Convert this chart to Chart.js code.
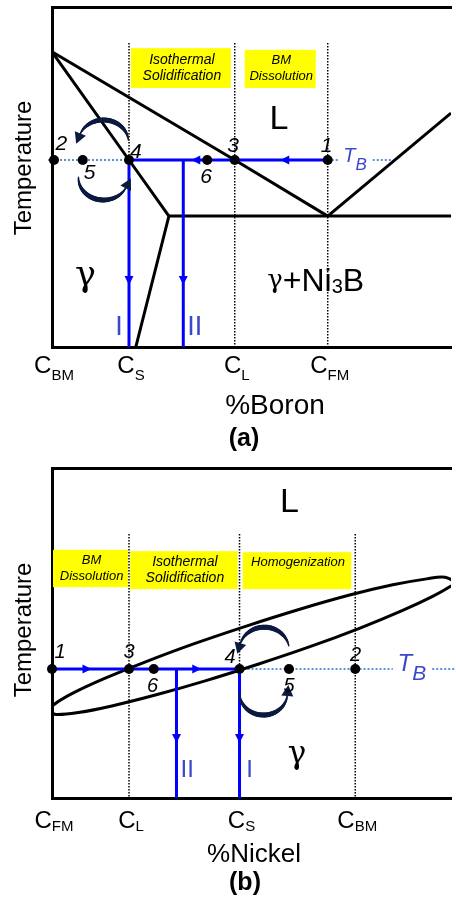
<!DOCTYPE html>
<html><head><meta charset="utf-8">
<script src="https://cdn.jsdelivr.net/npm/chart.js@4.4.0/dist/chart.umd.min.js"></script>
<style>
html,body{margin:0;padding:0;background:#fff;width:456px;height:903px;overflow:hidden}
canvas{position:absolute;left:0}
#ca{top:0}
#cb{top:452px}
</style></head><body>
<canvas id="ca" width="456" height="452"></canvas>
<canvas id="cb" width="456" height="451"></canvas>
<script>
// ================= DATA: panel (a)  Temperature vs %Boron =================
const ticksA = [0, 19.3, 45.8, 69.1];            // C_BM, C_S, C_L, C_FM
const tickNamesA = ['BM', 'S', 'L', 'FM'];
const tbA = 55;                                    // brazing temperature T_B
const liqA_x = [0, 45.8, 69.1];                    // liquidus (left branch)
const liqA_y = [86.8, 55, 38.5];
const solA_x = [0, 19.3, 29.3, 21.0];              // solidus + solvus
const solA_y = [86.8, 55, 38.5, 0];
const eutA_x = [29.3, 100];                        // eutectic isotherm
const eutA_y = [38.5, 38.5];
const liqRA_x = [69.1, 100];                       // liquidus (right branch)
const liqRA_y = [38.5, 68.8];
const ptsA_x = [0.5, 7.7, 19.3, 38.9, 45.8, 69.1]; // points 2,5,4,6,3,1
const ptsA_names = ['2', '5', '4', '6', '3', '1'];
const pathIA_x = 19.3, pathIIA_x = 32.9;           // cooling paths I and II

// ================= DATA: panel (b)  Temperature vs %Nickel =================
const ticksB = [0, 19.3, 47.0, 76.0];              // C_FM, C_L, C_S, C_BM
const tickNamesB = ['FM', 'L', 'S', 'BM'];
const tbB = 39.1;
const liqB_x = [-1.0, 0.35, 5.1, 12.9, 23.3, 35.5, 48.7, 62.1, 74.6, 85.4, 93.9, 98.5, 101];
const liqB_y = [26.1, 28.2, 31.7, 36.1, 41.2, 46.7, 52.1, 57.2, 61.5, 64.6, 66.4, 66.9, 65.5];
const solB_x = [-1.0, 1.1, 6.6, 15.0, 25.9, 38.4, 51.8, 65.0, 77.2, 87.6, 95.4, 100.1, 101];
const solB_y = [26.1, 25.3, 25.9, 27.9, 31.2, 35.5, 40.6, 46.0, 51.5, 56.7, 61.1, 64.3, 65.5];
const ptsB_x = [0, 19.3, 25.5, 47.0, 59.4, 76.0];  // points 1,3,6,4,5,2
const ptsB_names = ['1', '3', '6', '4', '5', '2'];
const pathIB_x = 47.0, pathIIB_x = 31.2;

// ================= helpers =================
const F = "'Liberation Sans', Arial, sans-serif";
const SERIF = "'DejaVu Serif', 'Liberation Serif', serif";
const BLUE = '#0000ff', LBLUE = '#5a8fd6', TXTBLUE = '#3b47cc', NAVY = '#0c1a40';

function pts(xs, ys) { return xs.map((x, i) => ({x: x, y: ys[i]})); }
function lineDs(xs, ys, o) {
  return Object.assign({data: pts(xs, ys), showLine: true, pointRadius: 0, pointHoverRadius: 0,
    borderColor: '#000', borderWidth: 3, fill: false, tension: 0}, o || {});
}
const dotV = {borderWidth: 1.5, borderDash: [1.5, 1.5]};
const dotTB = {borderColor: LBLUE, borderWidth: 2, borderDash: [2, 2], clip: 8};
const blue = {borderColor: BLUE, borderWidth: 3};
function pointDs(xs, y) {
  return {data: xs.map(x => ({x: x, y: y})), showLine: false, pointRadius: 5, pointHoverRadius: 5,
    pointBackgroundColor: '#000', pointBorderWidth: 0, clip: false};
}

function drawRuns(ctx, runs, x, y, align, color, base) {
  let w = 0;
  runs.forEach(r => { ctx.font = r[1]; w += ctx.measureText(r[0]).width; });
  let sx = align === 'left' ? x : x - w / 2;
  ctx.fillStyle = color || '#000';
  ctx.textAlign = 'left';
  ctx.textBaseline = base || 'alphabetic';
  runs.forEach(r => { ctx.font = r[1]; ctx.fillText(r[0], sx, y + (r[2] || 0)); sx += ctx.measureText(r[0]).width; });
}

const annot = {
  id: 'annot',
  beforeDatasetsDraw(chart, args, o) {
    const ctx = chart.ctx, X = chart.scales.x, Y = chart.scales.y;
    ctx.save();
    o.boxes.forEach(b => {
      const x0 = X.getPixelForValue(b.x0), x1 = X.getPixelForValue(b.x1);
      const y0 = Y.getPixelForValue(b.y1), y1 = Y.getPixelForValue(b.y0);
      ctx.fillStyle = '#ffff00';
      ctx.fillRect(x0, y0, x1 - x0, y1 - y0);
      const cx = (x0 + x1) / 2 + 1, cy = (y0 + y1) / 2;
      b.lines.forEach((t, i) => {
        drawRuns(ctx, [[t, 'italic ' + b.size + 'px ' + F]], cx, cy + (i === 0 ? -8 : 8), 'center', '#000', 'middle');
      });
    });
    ctx.restore();
  },
  afterDatasetsDraw(chart, args, o) {
    const ctx = chart.ctx, X = chart.scales.x, Y = chart.scales.y, A = chart.chartArea;
    ctx.save();
    // straight arrowheads on the blue paths
    o.arrows.forEach(a => {
      const px = X.getPixelForValue(a.x), py = Y.getPixelForValue(a.y);
      const d = {left: [-1, 0], right: [1, 0], down: [0, 1]}[a.dir];
      const L = 9, W = 4.5;
      ctx.fillStyle = BLUE;
      ctx.beginPath();
      ctx.moveTo(px, py);
      ctx.lineTo(px - d[0] * L - d[1] * W, py - d[1] * L + d[0] * W);
      ctx.lineTo(px - d[0] * L + d[1] * W, py - d[1] * L - d[0] * W);
      ctx.closePath();
      ctx.fill();
    });
    // curved circulation arrows
    o.curves.forEach(c => {
      const cx = X.getPixelForValue(c.cx), cy = Y.getPixelForValue(c.cy);
      const a0 = c.a0 * Math.PI / 180, a1 = c.a1 * Math.PI / 180;
      const n = 30;
      ctx.strokeStyle = NAVY; ctx.fillStyle = NAVY; ctx.lineCap = 'round';
      for (let i = 0; i < n; i++) {
        const t0 = a0 + (a1 - a0) * i / n, t1 = a0 + (a1 - a0) * (i + 1) / n;
        const s = (i + 0.5) / n;
        ctx.lineWidth = 1.2 + 3.8 * Math.sin(Math.PI * s);
        ctx.beginPath();
        ctx.moveTo(cx + c.rx * Math.cos(t0), cy + c.ry * Math.sin(t0));
        ctx.lineTo(cx + c.rx * Math.cos(t1), cy + c.ry * Math.sin(t1));
        ctx.stroke();
      }
      const ex = cx + c.rx * Math.cos(a1), ey = cy + c.ry * Math.sin(a1);
      const sg = a1 < a0 ? 1 : -1;
      let dx = sg * c.rx * Math.sin(a1), dy = -sg * c.ry * Math.cos(a1);
      const m = Math.hypot(dx, dy); dx /= m; dy /= m;
      ctx.beginPath();
      ctx.moveTo(ex + dx * 10, ey + dy * 10);
      ctx.lineTo(ex - dx * 1 - dy * 6, ey - dy * 1 + dx * 6);
      ctx.lineTo(ex - dx * 1 + dy * 6, ey - dy * 1 - dx * 6);
      ctx.closePath();
      ctx.fill();
    });
    // text labels in data coordinates
    o.texts.forEach(t => {
      drawRuns(ctx, t.r, X.getPixelForValue(t.x), Y.getPixelForValue(t.y), t.align || 'center', t.color, t.base);
    });
    // x tick labels with subscripts
    o.ticks.forEach((v, i) => {
      drawRuns(ctx, [['C', '24px ' + F], [o.tickNames[i], '15px ' + F, o.subDy]],
        X.getPixelForValue(v) + 2, A.bottom + o.tickBase, 'center');
    });
    // axis titles and panel label
    drawRuns(ctx, [[o.xTitle, o.xTitleSize + 'px ' + F]], o.xTitleX, A.bottom + o.xTitleBase, 'center');
    drawRuns(ctx, [[o.panel, 'bold 25px ' + F]], o.panelX, A.bottom + o.panelBase, 'center');
    ctx.save();
    ctx.translate(24, o.yTitleY);
    ctx.rotate(-Math.PI / 2);
    drawRuns(ctx, [['Temperature', '24px ' + F]], 0, 0, 'center', '#000', 'middle');
    ctx.restore();
    ctx.restore();
  }
};

function makeChart(id, datasets, cfg) {
  const border = {display: true, color: '#000', width: 3};
  return new Chart(document.getElementById(id), {
    type: 'scatter',
    data: {datasets: datasets},
    options: {
      responsive: false, animation: false, devicePixelRatio: 1, events: [],
      layout: {padding: 0},
      plugins: {legend: {display: false}, tooltip: {enabled: false}, annot: cfg},
      scales: {
        x: {type: 'linear', position: 'bottom', min: 0, max: 100, ticks: {display: false},
            grid: {display: false}, border: border, afterFit(s) { s.height = cfg.bottomH; }},
        xTop: {type: 'linear', position: 'top', min: 0, max: 100, ticks: {display: false},
            grid: {display: false}, border: border, afterFit(s) { s.height = cfg.topH; }},
        y: {type: 'linear', position: 'left', min: 0, max: 100, ticks: {display: false},
            grid: {display: false}, border: border, afterFit(s) { s.width = 52; }}
      }
    },
    plugins: [annot]
  });
}

// ================= panel (a) =================
const numA = 'italic 21px ' + F;
makeChart('ca', [
  pointDs(ptsA_x, tbA),
  lineDs([ticksA[1], ticksA[3]], [tbA, tbA], blue),
  lineDs([pathIA_x, pathIA_x], [tbA, 0], blue),
  lineDs([pathIIA_x, pathIIA_x], [tbA, 0], blue),
  lineDs(liqA_x, liqA_y),
  lineDs(solA_x, solA_y),
  lineDs(eutA_x, eutA_y),
  lineDs(liqRA_x, liqRA_y),
  lineDs([-1, ticksA[1]], [tbA, tbA], dotTB),
  lineDs([ticksA[3], 71.8], [tbA, tbA], dotTB),
  lineDs([80.4, 84.9], [tbA, tbA], dotTB),
  lineDs([ticksA[1], ticksA[1]], [89.4, tbA], dotV),
  lineDs([ticksA[2], ticksA[2]], [89.4, 0], dotV),
  lineDs([ticksA[3], ticksA[3]], [89.4, 0], dotV)
], {
  topH: 7, bottomH: 105,
  ticks: ticksA, tickNames: tickNamesA, tickBase: 26, subDy: 7,
  xTitle: '%Boron', xTitleSize: 28, xTitleX: 275, xTitleBase: 67,
  panel: '(a)', panelX: 244, panelBase: 99, yTitleY: 168,
  boxes: [
    {x0: 19.8, x1: 44.8, y0: 76.2, y1: 87.9, lines: ['Isothermal', 'Solidification'], size: 14},
    {x0: 48.3, x1: 66.1, y0: 76.2, y1: 87.4, lines: ['BM', 'Dissolution'], size: 13}
  ],
  arrows: [
    {x: 57.2, y: tbA, dir: 'left'}, {x: 34.9, y: tbA, dir: 'left'},
    {x: pathIA_x, y: 18.2, dir: 'down'}, {x: pathIIA_x, y: 18.2, dir: 'down'}
  ],
  curves: [
    {cx: 12.9, cy: 60.3, rx: 25, ry: 22, a0: -5, a1: -160},
    {cx: 12.9, cy: 49.7, rx: 25, ry: 22, a0: 182, a1: 25}
  ],
  texts: [
    {r: [['L', '34px ' + F]], x: 56.9, y: 66.8, base: 'middle'},
    {r: [['γ', '35px ' + SERIF]], x: 8.4, y: 17.9},
    {r: [['γ', '26px ' + SERIF, -3], ['+Ni', '32px ' + F], ['3', '20px ' + F, 2], ['B', '32px ' + F]], x: 66.1, y: 16.5},
    {r: [['I', '27px ' + F]], x: 16.8, y: 3.5, color: TXTBLUE},
    {r: [['II', '27px ' + F]], x: 35.8, y: 3.5, color: TXTBLUE},
    {r: [['T', 'italic 20px ' + F], ['B', 'italic 17px ' + F, 8]], x: 73.0, y: 54.4, align: 'left', color: TXTBLUE},
    {r: [[ptsA_names[0], numA]], x: 2.35, y: 57.9},
    {r: [[ptsA_names[1], numA]], x: 9.4, y: 49.4},
    {r: [[ptsA_names[2], numA]], x: 21.0, y: 55.6},
    {r: [[ptsA_names[3], numA]], x: 38.6, y: 48.2},
    {r: [[ptsA_names[4], numA]], x: 45.4, y: 57.4},
    {r: [[ptsA_names[5], numA]], x: 68.8, y: 57.4}
  ]
});

// ================= panel (b) =================
const numB = 'italic 20px ' + F;
makeChart('cb', [
  pointDs(ptsB_x, tbB),
  lineDs([ticksB[0], ticksB[2]], [tbB, tbB], blue),
  lineDs([pathIB_x, pathIB_x], [tbB, 0], blue),
  lineDs([pathIIB_x, pathIIB_x], [tbB, 0], blue),
  lineDs(liqB_x, liqB_y, {tension: 0.4, clip: 0}),
  lineDs(solB_x, solB_y, {tension: 0.4, clip: 0}),
  lineDs([ticksB[2], 85.4], [tbB, tbB], dotTB),
  lineDs([95.3, 101], [tbB, tbB], dotTB),
  lineDs([ticksB[1], ticksB[1]], [80, 0], dotV),
  lineDs([ticksB[2], ticksB[2]], [80, tbB], dotV),
  lineDs([ticksB[3], ticksB[3]], [80, 0], dotV)
], {
  topH: 16, bottomH: 105,
  ticks: ticksB, tickNames: tickNamesB, tickBase: 30, subDy: 3,
  xTitle: '%Nickel', xTitleSize: 26, xTitleX: 254, xTitleBase: 64,
  panel: '(b)', panelX: 245, panelBase: 92, yTitleY: 178,
  boxes: [
    {x0: 0.25, x1: 19.1, y0: 63.9, y1: 75.2, lines: ['BM', 'Dissolution'], size: 13},
    {x0: 19.6, x1: 46.5, y0: 63.3, y1: 74.8, lines: ['Isothermal', 'Solidification'], size: 14},
    {x0: 47.8, x1: 75.0, y0: 63.3, y1: 74.5, lines: ['Homogenization', ''], size: 13}
  ],
  arrows: [
    {x: 9.9, y: tbB, dir: 'right'}, {x: 37.4, y: tbB, dir: 'right'},
    {x: pathIIB_x, y: 16.7, dir: 'down'}, {x: pathIB_x, y: 16.7, dir: 'down'}
  ],
  curves: [
    {cx: 53.2, cy: 44.8, rx: 25, ry: 23, a0: -11, a1: -165},
    {cx: 53.0, cy: 31.8, rx: 24, ry: 22, a0: 180, a1: 5}
  ],
  texts: [
    {r: [['L', '34px ' + F]], x: 59.5, y: 89.4, base: 'middle'},
    {r: [['γ', '31px ' + SERIF]], x: 61.4, y: 10.6},
    {r: [['II', '24px ' + F]], x: 33.9, y: 6.4, color: TXTBLUE},
    {r: [['I', '24px ' + F]], x: 49.5, y: 6.4, color: TXTBLUE},
    {r: [['T', 'italic 24px ' + F], ['B', 'italic 21px ' + F, 9]], x: 86.6, y: 38.5, align: 'left', color: TXTBLUE},
    {r: [[ptsB_names[0], numB]], x: 2.0, y: 42.4},
    {r: [[ptsB_names[1], numB]], x: 19.3, y: 42.4},
    {r: [[ptsB_names[2], numB]], x: 25.2, y: 32.1},
    {r: [[ptsB_names[3], numB]], x: 44.6, y: 40.9},
    {r: [[ptsB_names[4], numB]], x: 59.4, y: 32.1},
    {r: [[ptsB_names[5], numB]], x: 76.1, y: 41.5}
  ]
});
</script>
</body></html>
